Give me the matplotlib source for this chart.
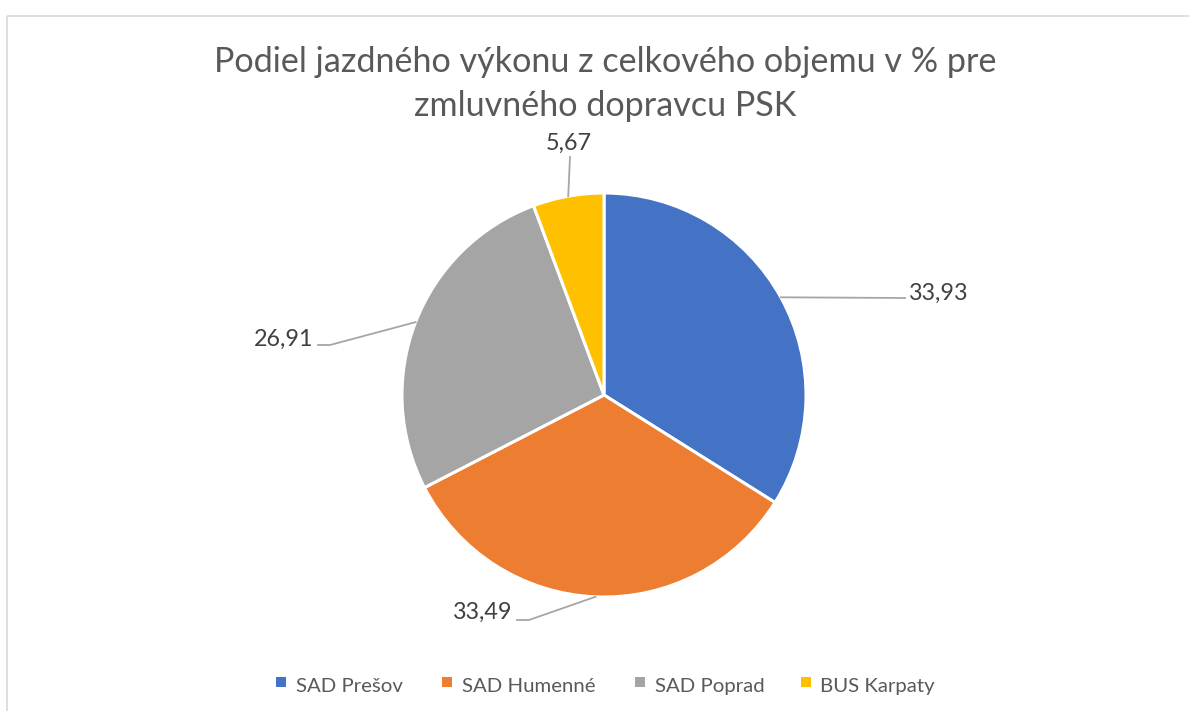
import numpy as np
import matplotlib
matplotlib.use("Agg")
import matplotlib.pyplot as plt

categories = ["SAD Prešov", "SAD Humenné", "SAD Poprad", "BUS Karpaty"]
values = [33.93, 33.49, 26.91, 5.67]
labels = ["33,93", "33,49", "26,91", "5,67"]
colors = ["#4472C4", "#ED7D31", "#A5A5A5", "#FFC000"]
title = "Podiel jazdného výkonu z celkového objemu v % pre\nzmluvného dopravcu PSK"

W, H = 1189, 711
fig = plt.figure(figsize=(W / 100, H / 100), dpi=100)
ax = fig.add_axes([0, 0, 1, 1])
ax.set_xlim(0, W)
ax.set_ylim(0, H)
ax.axis("off")

FONT = "Lato"
renderer = fig.canvas.get_renderer()


def fit_size(text, target_px, base=10):
    t = fig.text(0, 0, text, fontsize=base, family=FONT)
    w = t.get_window_extent(renderer).width
    t.remove()
    return base * target_px / w


# chart border (top and left visible)
ax.plot([6.5, 6.5], [0, H - 15.5], color="#D9D9D9", lw=1.2, solid_capstyle="butt")
ax.plot([6.5, W], [H - 15.5, H - 15.5], color="#D9D9D9", lw=1.2, solid_capstyle="butt")

cx, cy, R = 604, H - 395, 202
wedges, _ = ax.pie(values, colors=colors, startangle=90, counterclock=False,
                   center=(cx, cy), radius=R,
                   wedgeprops=dict(edgecolor="white", linewidth=2.2))
ax.set_xlim(0, W)
ax.set_ylim(0, H)
ax.set_aspect("equal")

lab_size = fit_size("33,93", 59)
leaders = [
    dict(elbow=(905, 298), end=(905, 298), text=(909, 293), ha="left"),
    dict(elbow=(529, 620), end=(517, 620), text=(512, 612), ha="right"),
    dict(elbow=(330, 345), end=(318, 345), text=(313, 339), ha="right"),
    dict(elbow=(570, 157), end=(570, 157), text=(569, 143), ha="center"),
]
for w, lab, ld in zip(wedges, labels, leaders):
    ang = np.deg2rad((w.theta1 + w.theta2) / 2)
    px, py = cx + R * np.cos(ang), cy + R * np.sin(ang)
    ex, ey = ld["elbow"]
    fx, fy = ld["end"]
    ax.plot([px, ex, fx], [py, H - ey, H - fy], color="#A6A6A6", lw=1.3)
    tx, ty = ld["text"]
    ax.text(tx, H - ty, lab, ha=ld["ha"], va="center", fontsize=lab_size,
            color="#404040", family=FONT)

title_size = fit_size(title.split("\n")[0], 784)
ax.text(605, H - 84, title, ha="center", va="center", fontsize=title_size,
        color="#595959", family=FONT, linespacing=1.45)

# legend (manual, matching Excel layout)
leg_size = fit_size(categories[0], 107)
marker_x = [280.5, 447, 640, 805.5]
text_x = [296, 462, 655, 820]
for c, name, mx, tx in zip(colors, categories, marker_x, text_x):
    ax.scatter([mx], [H - 682], marker="s", s=46, color=c, linewidths=0)
    ax.text(tx, H - 692, name, ha="left", va="baseline", fontsize=leg_size,
            color="#595959", family=FONT)

fig.savefig("out.png", dpi=100)
